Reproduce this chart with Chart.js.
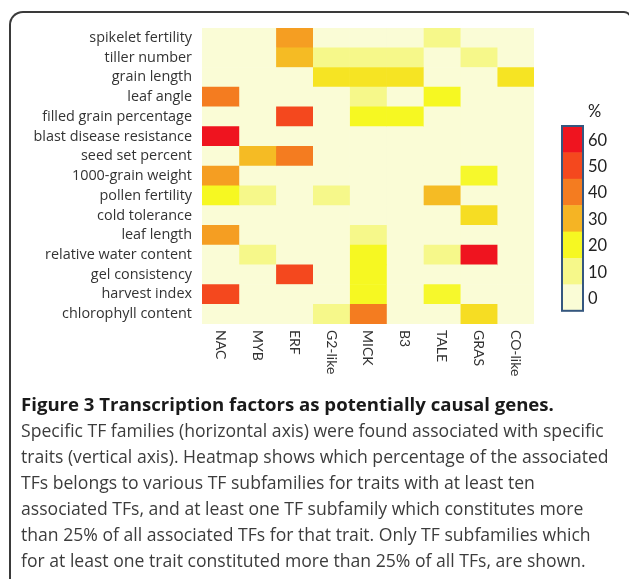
<!DOCTYPE html>
<html>
<head>
<meta charset="utf-8">
<script src="https://cdn.jsdelivr.net/npm/chart.js@4"></script>
<style>
  html, body { margin: 0; padding: 0; background: #fff; }
  #wrap { position: relative; width: 629px; height: 579px; overflow: hidden; }
  #frame {
    position: absolute; left: 9px; top: 11px; width: 619px; height: 620px;
    border-top: 2px solid #3a3a3a; border-left: 2px solid #3a3a3a;
    border-right: 2px solid #3a3a3a;
    border-top-left-radius: 14px; border-top-right-radius: 8px;
  }
  canvas { position: absolute; left: 0; top: 0; }
  #caption {
    position: absolute; left: 21px; top: 391px; width: 610px; white-space: nowrap;
    font-family: "Open Sans", sans-serif; font-size: 17.6px; line-height: 26px; color: #3c3c3c;
  }
  #caption b { color: #1a1a1a; font-size: 18.6px; }
</style>
</head>
<body>
<div id="wrap">
  <div id="frame"></div>
  <canvas id="heat" width="629" height="579"></canvas>
  <div id="caption">
    <b>Figure 3 Transcription factors as potentially causal genes.</b><br>
    Specific TF families (horizontal axis) were found associated with specific<br>
    traits (vertical axis). Heatmap shows which percentage of the associated<br>
    TFs belongs to various TF subfamilies for traits with at least ten<br>
    associated TFs, and at least one TF subfamily which constitutes more<br>
    than 25% of all associated TFs for that trait. Only TF subfamilies which<br>
    for at least one trait constituted more than 25% of all TFs, are shown.
  </div>
</div>
<script>
// categories
const families = ['NAC', 'MYB', 'ERF', 'G2-like', 'MICK', 'B3', 'TALE', 'GRAS', 'CO-like'];
const traits = [
  'spikelet fertility', 'tiller number', 'grain length', 'leaf angle',
  'filled grain percentage', 'blast disease resistance', 'seed set percent',
  '1000-grain weight', 'pollen fertility', 'cold tolerance', 'leaf length',
  'relative water content', 'gel consistency', 'harvest index', 'chlorophyll content'
];

// % of associated TFs per family, one value per trait (top to bottom)
const nac    = [0, 0, 0, 40, 0, 60, 0, 34, 20, 0, 34, 0, 0, 50, 0];
const myb    = [0, 0, 0, 0, 0, 0, 29, 0, 10, 0, 0, 10, 0, 0, 0];
const erf    = [34, 29, 0, 0, 50, 0, 40, 0, 0, 0, 0, 0, 50, 0, 0];
const g2like = [0, 10, 23, 0, 0, 0, 0, 0, 10, 0, 0, 0, 0, 0, 10];
const mick   = [0, 10, 23, 10, 20, 0, 0, 0, 0, 0, 10, 20, 20, 20, 40];
const b3     = [0, 10, 23, 0, 20, 0, 0, 0, 0, 0, 0, 0, 0, 0, 0];
const tale   = [10, 0, 0, 20, 0, 0, 0, 0, 29, 0, 0, 10, 0, 19, 0];
const gras   = [0, 10, 0, 0, 0, 0, 0, 19, 0, 24, 0, 60, 0, 0, 24];
const colike = [0, 0, 23, 0, 0, 0, 0, 0, 0, 0, 0, 0, 0, 0, 0];
const series = [nac, myb, erf, g2like, mick, b3, tale, gras, colike];

// colour scale
const scaleTicks = [0, 10, 20, 30, 40, 50, 60];
const scaleColors = ['#fafcd6', '#f6f88a', '#f6f822', '#f5b424', '#f47c20', '#f4481e', '#ef141f'];

function hexRgb(h) {
  return [parseInt(h.substr(1, 2), 16), parseInt(h.substr(3, 2), 16), parseInt(h.substr(5, 2), 16)];
}
function colorFor(v) {
  if (v <= scaleTicks[0]) return scaleColors[0];
  if (v >= scaleTicks[scaleTicks.length - 1]) return scaleColors[scaleColors.length - 1];
  let i = 0;
  while (v > scaleTicks[i + 1]) i++;
  const t = (v - scaleTicks[i]) / (scaleTicks[i + 1] - scaleTicks[i]);
  const a = hexRgb(scaleColors[i]), b = hexRgb(scaleColors[i + 1]);
  const c = a.map((x, k) => Math.round(x + (b[k] - x) * t));
  return 'rgb(' + c.join(',') + ')';
}

// family names under the columns, reading top to bottom
const familyLabels = {
  id: 'familyLabels',
  afterDraw(chart) {
    const ctx = chart.ctx, x = chart.scales.x, area = chart.chartArea;
    ctx.save();
    ctx.fillStyle = '#333';
    ctx.font = '14px Lato, "Open Sans", sans-serif';
    ctx.textAlign = 'left';
    ctx.textBaseline = 'middle';
    families.forEach((f, j) => {
      ctx.save();
      ctx.translate(x.getPixelForValue(j + 0.5), area.bottom + 6);
      ctx.rotate(Math.PI / 2);
      ctx.fillText(f, 0, 0);
      ctx.restore();
    });
    ctx.restore();
  }
};

const colorBar = {
  id: 'colorBar',
  afterDraw(chart) {
    const ctx = chart.ctx, area = chart.chartArea;
    const left = area.right + 28, top = 126, w = 21, h = 26.4;
    const n = scaleTicks.length;
    ctx.save();
    ctx.font = '16.5px Lato, "Open Sans", sans-serif';
    ctx.textBaseline = 'middle';
    ctx.textAlign = 'left';
    for (let i = 0; i < n; i++) {
      const v = scaleTicks[n - 1 - i];
      ctx.fillStyle = colorFor(v);
      ctx.fillRect(left, top + i * h, w, h + 0.5);
      ctx.fillStyle = '#222';
      ctx.fillText(String(v), left + w + 5, top + i * h + h / 2 + 1);
    }
    ctx.fillText('%', left + w + 5, top - 14);
    ctx.strokeStyle = '#35577f';
    ctx.lineWidth = 2;
    ctx.strokeRect(left, top, w, h * n);
    ctx.restore();
  }
};

new Chart(document.getElementById('heat'), {
  type: 'bar',
  data: {
    labels: traits,
    datasets: series.map((vals, j) => ({
      label: families[j],
      data: vals.map(() => 1),
      backgroundColor: vals.map(colorFor),
      borderWidth: 0,
      barPercentage: 1,
      categoryPercentage: 1
    }))
  },
  options: {
    indexAxis: 'y',
    responsive: false,
    animation: false,
    layout: { padding: { top: 28, right: 95, bottom: 255, left: 0 } },
    plugins: { legend: { display: false }, tooltip: { enabled: false } },
    scales: {
      x: { type: 'linear', stacked: true, min: 0, max: families.length, display: false },
      y: {
        stacked: true,
        grid: { display: false, drawTicks: false },
        border: { display: false },
        ticks: {
          autoSkip: false, color: '#333', padding: 10,
          font: { family: '"Open Sans", sans-serif', size: 14.4 }
        },
        afterFit(scale) { scale.width = 202; }
      }
    }
  },
  plugins: [familyLabels, colorBar]
});
</script>
</body>
</html>
